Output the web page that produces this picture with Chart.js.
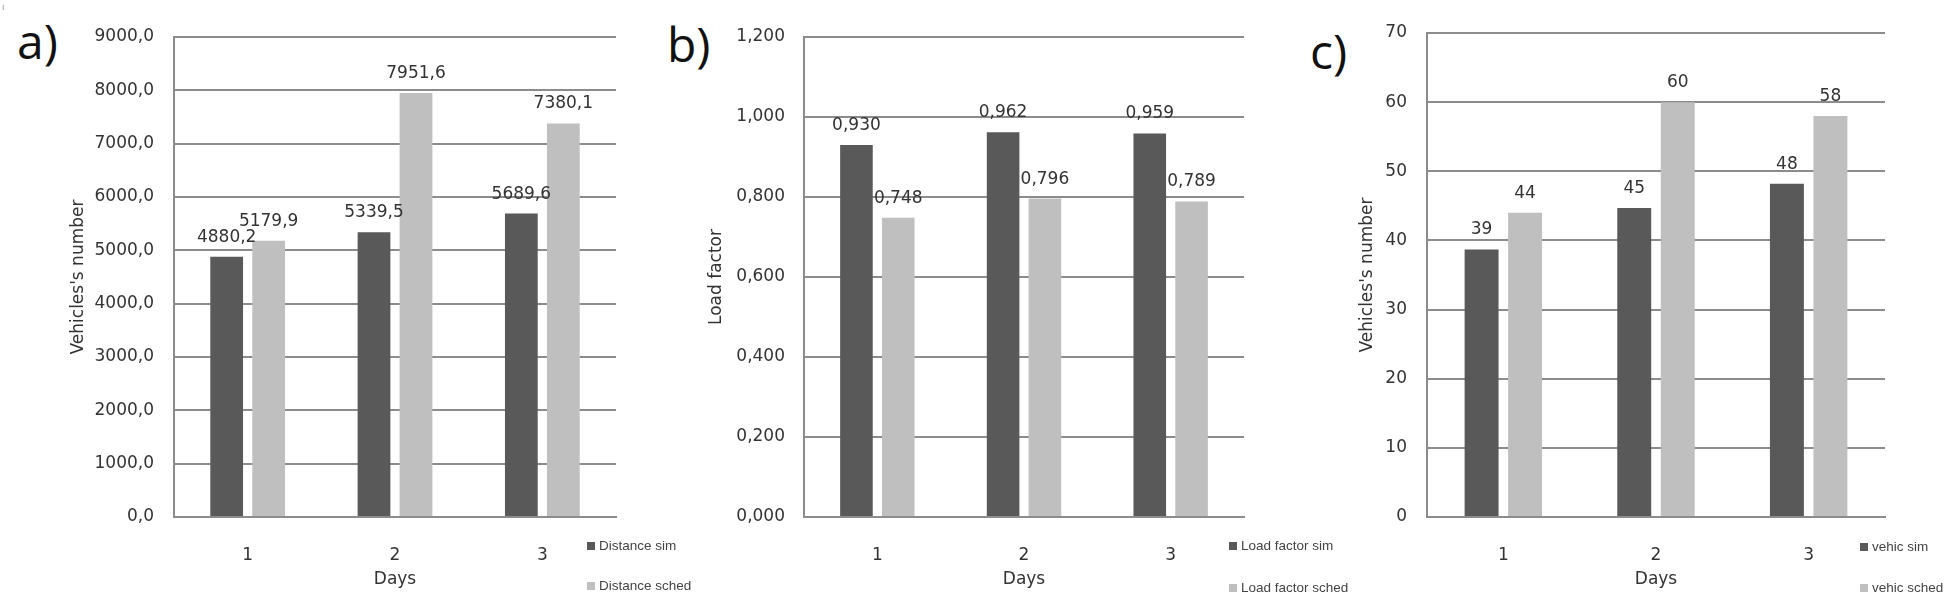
<!DOCTYPE html>
<html>
<head>
<meta charset="utf-8">
<script src="https://cdn.jsdelivr.net/npm/chart.js@4.4.1/dist/chart.umd.min.js"></script>
<style>
  html, body { margin: 0; padding: 0; background: #fff; }
  body { width: 1946px; height: 592px; position: relative; overflow: hidden; font-family: "DejaVu Sans", sans-serif; }
  .box { position: absolute; top: 0; height: 592px; }
  .box canvas { display: block; }
  .tag { position: absolute; font-family: "Open Sans", sans-serif; font-size: 48px; line-height: 48px; color: #111; }
  .mark { position: absolute; left: 2px; top: 2px; font-size: 9px; color: #999; }
</style>
</head>
<body>
<div class="mark">ı</div>
<div class="tag" style="left:17px;top:17px">a)</div>
<div class="tag" style="left:667px;top:20px">b)</div>
<div class="tag" style="left:1310px;top:27px">c)</div>

<div class="box" style="left:0;width:700px"><canvas id="chartA" width="700" height="592"></canvas></div>
<div class="box" style="left:700px;width:670px"><canvas id="chartB" width="670" height="592"></canvas></div>
<div class="box" style="left:1340px;width:606px"><canvas id="chartC" width="606" height="592"></canvas></div>

<script>
// ---- datos ----
const days = ['1', '2', '3'];

const distanceSim = [4880.2, 5339.5, 5689.6];
const distanceSched = [5179.9, 7951.6, 7380.1];

const loadSim = [0.930, 0.962, 0.959];
const loadSched = [0.748, 0.796, 0.789];

const vehicSim = [38.7, 44.7, 48.2];
const vehicSched = [44, 60, 58];

// ---- helpers ----
const DARK = '#595959';
const LIGHT = '#bfbfbf';
const GRID = '#8c8c8c';
const TXT = '#333';
const FONT = { family: '"DejaVu Sans", sans-serif', size: 17 };

function fmt(v, dec) {
  return Number(v).toFixed(dec).replace('.', ',');
}

// value labels above bars + the little legend under the plot
const barLabels = {
  id: 'barLabels',
  afterDatasetsDraw(chart, args, opts) {
    const ctx = chart.ctx;
    ctx.save();
    ctx.font = '17px "DejaVu Sans", sans-serif';
    ctx.fillStyle = TXT;
    ctx.textAlign = 'center';
    ctx.textBaseline = 'alphabetic';
    chart.data.datasets.forEach((ds, i) => {
      chart.getDatasetMeta(i).data.forEach((bar, j) => {
        ctx.fillText(fmt(ds.data[j], opts.decimals), bar.x, bar.y - 15);
      });
    });

    ctx.font = '13.5px "Liberation Sans", sans-serif';
    ctx.textAlign = 'left';
    ctx.textBaseline = 'middle';
    chart.data.datasets.forEach((ds, i) => {
      const y = opts.rows[i];
      ctx.fillStyle = ds.backgroundColor;
      ctx.fillRect(opts.legendX, y - 4, 8, 8);
      ctx.fillStyle = '#444';
      ctx.fillText(ds.label, opts.legendX + 12, y);
    });
    ctx.restore();
  }
};

function makeChart(id, cfg) {
  return new Chart(document.getElementById(id), {
    type: 'bar',
    data: {
      labels: days,
      datasets: [
        { label: cfg.names[0], data: cfg.sim, backgroundColor: DARK, categoryPercentage: 0.57, barPercentage: 0.78 },
        { label: cfg.names[1], data: cfg.sched, backgroundColor: LIGHT, categoryPercentage: 0.57, barPercentage: 0.78 }
      ]
    },
    options: {
      responsive: false,
      animation: false,
      layout: { padding: cfg.pad },
      plugins: {
        legend: { display: false },
        tooltip: { enabled: false },
        barLabels: { decimals: cfg.dec, legendX: cfg.legendX, rows: cfg.rows }
      },
      scales: {
        x: {
          grid: { display: false },
          border: { color: GRID, width: 2 },
          ticks: { font: FONT, color: TXT, padding: 20 },
          title: { display: true, text: 'Days', font: FONT, color: TXT, padding: { top: 0, bottom: 0 } },
          afterFit: s => { s.height = 73; }
        },
        y: {
          min: 0,
          max: cfg.max,
          ticks: { stepSize: cfg.step, padding: cfg.tickPad, font: FONT, color: TXT, callback: v => fmt(v, cfg.dec) },
          grid: { color: GRID, lineWidth: 2, drawTicks: false },
          border: { color: GRID, width: 2 },
          title: { display: true, text: cfg.yTitle, font: FONT, color: TXT, padding: { top: 4, bottom: 4 } },
          afterFit: s => { s.width = cfg.yWidth; }
        }
      }
    },
    plugins: [barLabels]
  });
}

// ---- graficos ----
makeChart('chartA', {
  names: ['Distance sim', 'Distance sched'],
  sim: distanceSim, sched: distanceSched,
  dec: 1, max: 9000, step: 1000,
  yTitle: "Vehicles's number",
  pad: { left: 64, right: 84, top: 37, bottom: 2 },
  yWidth: 110, tickPad: 20,
  legendX: 587, rows: [546, 586]
});

makeChart('chartB', {
  names: ['Load factor sim', 'Load factor sched'],
  sim: loadSim, sched: loadSched,
  dec: 3, max: 1.2, step: 0.2,
  yTitle: 'Load factor',
  pad: { left: 2, right: 126, top: 37, bottom: 2 },
  yWidth: 102, tickPad: 19,
  legendX: 529, rows: [546, 588]
});

makeChart('chartC', {
  names: ['vehic sim', 'vehic sched'],
  sim: vehicSim, sched: vehicSched,
  dec: 0, max: 70, step: 10,
  yTitle: "Vehicles's number",
  pad: { left: 13, right: 61, top: 33, bottom: 2 },
  yWidth: 74, tickPad: 20,
  legendX: 520, rows: [547, 588]
});
</script>
</body>
</html>
